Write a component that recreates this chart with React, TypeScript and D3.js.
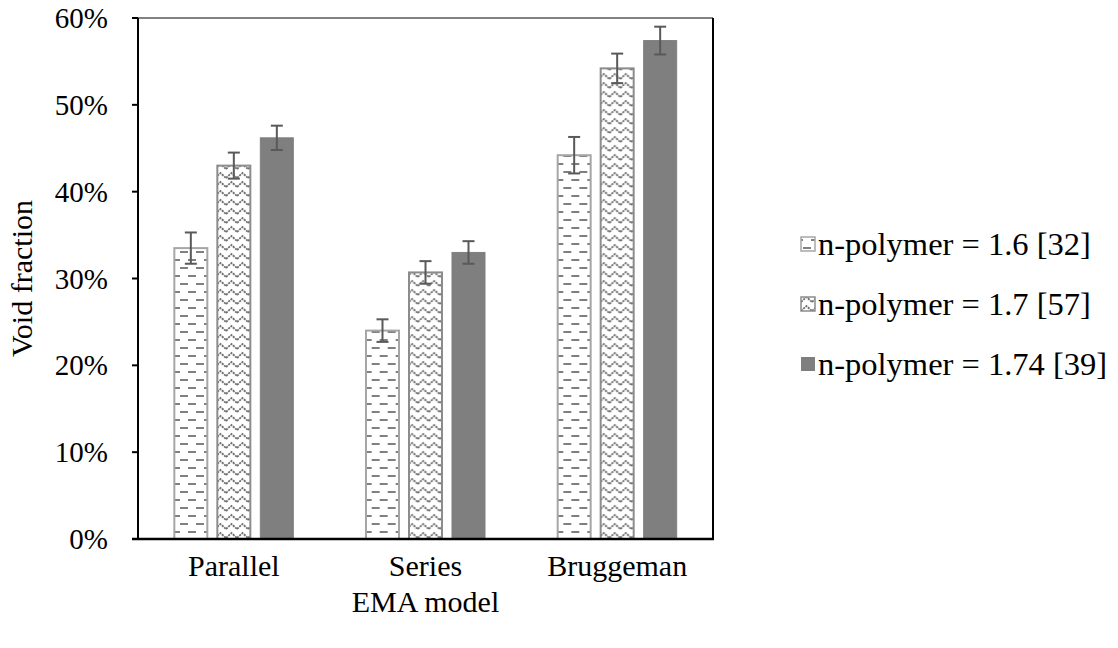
import React from "react";
import * as d3 from "d3";

// values (fractions)
const categories = ["Parallel", "Series", "Bruggeman"];
const seriesNames = [
  "n-polymer = 1.6 [32]",
  "n-polymer = 1.7 [57]",
  "n-polymer = 1.74 [39]",
];
const parallelValues = [0.335, 0.43, 0.462];
const seriesValues = [0.24, 0.307, 0.33];
const bruggemanValues = [0.442, 0.542, 0.574];
const parallelErrors = [0.018, 0.015, 0.014];
const seriesErrors = [0.013, 0.013, 0.013];
const bruggemanErrors = [0.021, 0.017, 0.016];
const yTicks = [0, 0.1, 0.2, 0.3, 0.4, 0.5, 0.6];

const values = [parallelValues, seriesValues, bruggemanValues];
const errors = [parallelErrors, seriesErrors, bruggemanErrors];

const W = 1118;
const H = 648;
const plot = { left: 138, right: 713, top: 18, bottom: 539 };
const font = "Liberation Serif, Times New Roman, serif";

const fills = ["url(#dashes)", "url(#zigzag)", "#7f7f7f"];
const strokes = ["#a6a6a6", "#8c8c8c", "#7f7f7f"];

export default function App() {
  const x = d3
    .scaleBand<string>()
    .domain(categories)
    .range([plot.left, plot.right]);
  const xInner = d3
    .scaleBand<string>()
    .domain(seriesNames)
    .range([0, x.bandwidth()])
    .paddingInner(0.2326)
    .paddingOuter(0.845);
  const y = d3.scaleLinear().domain([0, 0.6]).range([plot.bottom, plot.top]);
  const fmt = d3.format(".0%");

  const legendY = d3
    .scalePoint<string>()
    .domain(seriesNames)
    .range([244, 364]);

  return (
    <svg
      width={W}
      height={H}
      style={{
        position: "absolute",
        left: 0,
        top: 0,
        background: "#fff",
        fontFamily: font,
      }}
    >
      <defs>
        <pattern
          id="dashes"
          patternUnits="userSpaceOnUse"
          width={16}
          height={16}
        >
          <rect width={16} height={16} fill="#fff" />
          <line x1={2} x2={10} y1={4} y2={4} stroke="#808080" strokeWidth={2} />
          <line x1={10} x2={18} y1={12} y2={12} stroke="#808080" strokeWidth={2} />
          <line x1={-6} x2={2} y1={12} y2={12} stroke="#808080" strokeWidth={2} />
        </pattern>
        <pattern
          id="zigzag"
          patternUnits="userSpaceOnUse"
          width={11}
          height={9}
        >
          <rect width={11} height={9} fill="#fff" />
          <path
            d="M0,7 L5.5,2 L11,7"
            fill="none"
            stroke="#707070"
            strokeWidth={1.8}
            strokeDasharray="2.2 0.9"
          />
        </pattern>
      </defs>

      {/* bars */}
      {categories.map((cat, ci) => (
        <g key={cat} transform={`translate(${x(cat)},0)`}>
          {seriesNames.map((s, si) => {
            const v = values[ci][si];
            const e = errors[ci][si];
            const bx = xInner(s)!;
            const cx = bx + xInner.bandwidth() / 2;
            return (
              <g key={s}>
                <rect
                  x={bx}
                  y={y(v)}
                  width={xInner.bandwidth()}
                  height={y(0) - y(v)}
                  fill={fills[si]}
                  stroke={strokes[si]}
                  strokeWidth={si === 2 ? 1 : 2}
                />
                <g stroke="#595959" strokeWidth={2}>
                  <line x1={cx} x2={cx} y1={y(v + e)} y2={y(v - e)} />
                  <line x1={cx - 6} x2={cx + 6} y1={y(v + e)} y2={y(v + e)} />
                  <line x1={cx - 6} x2={cx + 6} y1={y(v - e)} y2={y(v - e)} />
                </g>
              </g>
            );
          })}
        </g>
      ))}

      {/* frame */}
      <line x1={plot.left - 6} x2={plot.right} y1={plot.top} y2={plot.top} stroke="#595959" strokeWidth={1.5} />
      <line x1={plot.right} x2={plot.right} y1={plot.top} y2={plot.bottom} stroke="#000" strokeWidth={2} />
      <line x1={plot.left} x2={plot.left} y1={plot.top} y2={plot.bottom} stroke="#000" strokeWidth={2} />
      <line x1={plot.left - 6} x2={plot.right + 1} y1={plot.bottom} y2={plot.bottom} stroke="#000" strokeWidth={2.5} />

      {/* y axis */}
      {yTicks.map((t) => (
        <g key={t}>
          <line x1={plot.left - 6} x2={plot.left} y1={y(t)} y2={y(t)} stroke="#000" strokeWidth={2} />
          <text
            x={108}
            y={y(t)}
            dy="0.35em"
            textAnchor="end"
            fontSize={29}
            fontFamily={font}
            fill="#000"
          >
            {fmt(t)}
          </text>
        </g>
      ))}

      {/* x axis labels */}
      {categories.map((cat) => (
        <text
          key={cat}
          x={x(cat)! + x.bandwidth() / 2}
          y={576}
          textAnchor="middle"
          fontSize={30}
          fontFamily={font}
        >
          {cat}
        </text>
      ))}

      <text
        x={(plot.left + plot.right) / 2}
        y={612}
        textAnchor="middle"
        fontSize={30}
        fontFamily={font}
      >
        EMA model
      </text>
      <text
        transform={`translate(32,${(plot.top + plot.bottom) / 2}) rotate(-90)`}
        textAnchor="middle"
        fontSize={30}
        fontFamily={font}
      >
        Void fraction
      </text>

      {/* legend */}
      {seriesNames.map((s, si) => (
        <g key={s} transform={`translate(801,${legendY(s)})`}>
          <rect
            x={0}
            y={-7}
            width={14}
            height={14}
            fill={fills[si]}
            stroke={strokes[si]}
            strokeWidth={si === 2 ? 0 : 1.5}
          />
          <text x={17} y={0} dy="0.33em" fontSize={32.5} fontFamily={font}>
            {s}
          </text>
        </g>
      ))}
    </svg>
  );
}
